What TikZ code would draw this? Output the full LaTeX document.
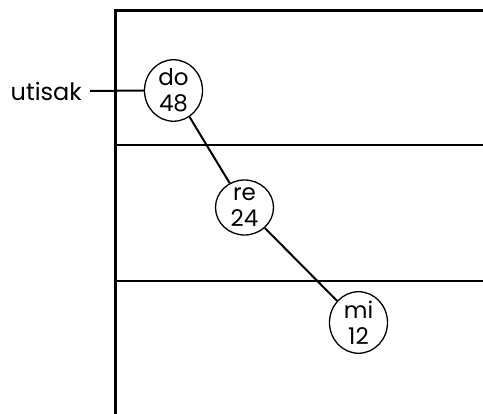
\documentclass[tikz,border=0pt]{standalone}
\usepackage{fontspec}
\setmainfont{Poppins}
\usetikzlibrary{shapes.geometric}
\begin{document}
\begin{tikzpicture}[x=1pt,y=-1pt,
  frame/.style={line width=2.4pt},
  tone/.style={draw, ellipse, line width=1.3pt, minimum width=58pt, minimum height=55pt, inner sep=0pt, align=center, font=\fontsize{23}{26}\selectfont},
  conn/.style={line width=2pt}]
\useasboundingbox (0,0) rectangle (483,414);
\coordinate (tl) at (115.5,10.7);
\coordinate (tr) at (483,10.7);
\coordinate (bl) at (115.5,414);
\coordinate (m1l) at (115.5,145);
\coordinate (m1r) at (483,145);
\coordinate (m2l) at (115.5,281);
\coordinate (m2r) at (483,281);
\draw[frame] (bl) -- (tl) -- (tr);
\draw[frame] (m1l) -- (m1r);
\draw[frame] (m2l) -- (m2r);
\node[tone] (do) at (173.5,90.5) {do\\48};
\node[tone] (re) at (244.5,207.5) {re\\24};
\node[tone] (mi) at (358.5,322.5) {mi\\12};
\node[font=\fontsize{24}{26}\selectfont, anchor=east, inner sep=0pt] (ut) at (82,91) {utisak};
\draw[conn] (ut.east) ++(8,0) coordinate (ute) -- (do.west);
\draw[conn] (do) -- (re);
\draw[conn] (re) -- (mi);
\end{tikzpicture}
\end{document}
